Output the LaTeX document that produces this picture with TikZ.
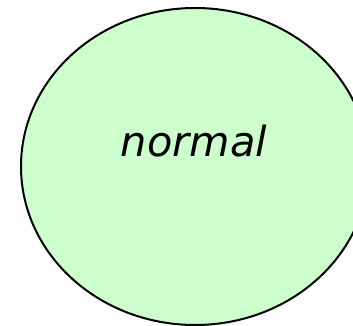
\documentclass[tikz,border=0pt]{standalone}
\usepackage{fontspec}
\setmainfont{DejaVu Sans}
\definecolor{lightgreen}{HTML}{CCFFCC}
\begin{document}
\begin{tikzpicture}[x=1pt,y=1pt,
  state/.style={draw=black,fill=lightgreen,line width=2pt},
  lbl/.style={font=\fontsize{41.5}{48}\selectfont\itshape}]
\useasboundingbox (0,0) rectangle (353,326);
\clip (0,0) rectangle (353,326);
\draw[state] (195,159.5) ellipse [x radius=174, y radius=158.5];
\node[lbl,inner sep=0pt] (normal) at (194,185) {normal};
\end{tikzpicture}
\end{document}
